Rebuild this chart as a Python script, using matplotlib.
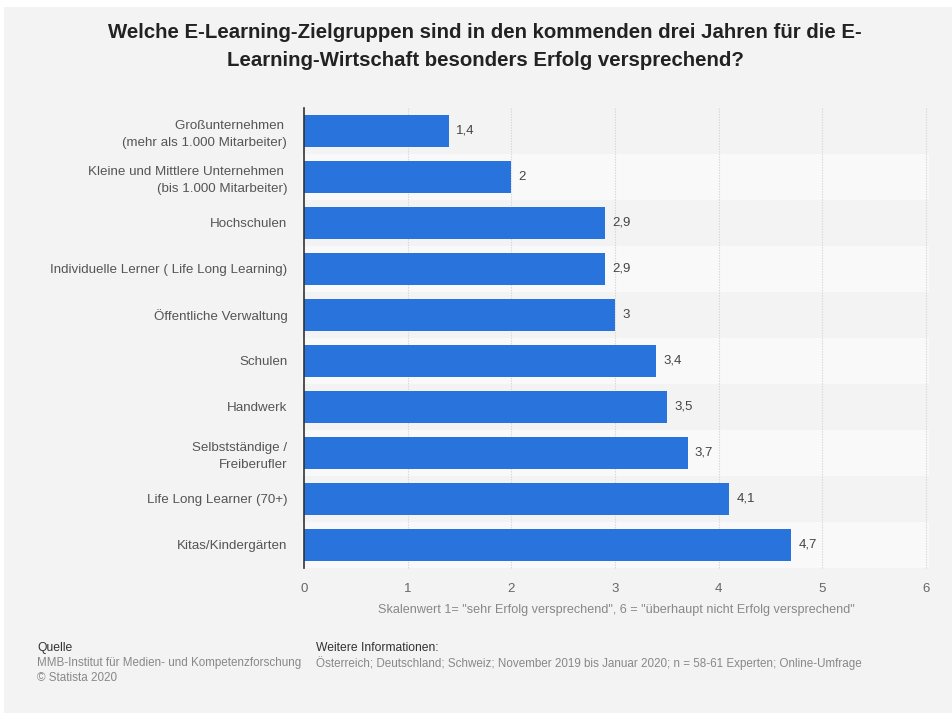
import matplotlib
matplotlib.use("Agg")
import matplotlib.pyplot as plt
from matplotlib.patches import Rectangle

plt.rcParams['font.family'] = ['Liberation Sans', 'DejaVu Sans']

categories = [
    "Großunternehmen \n(mehr als 1.000 Mitarbeiter)",
    "Kleine und Mittlere Unternehmen \n(bis 1.000 Mitarbeiter)",
    "Hochschulen",
    "Individuelle Lerner ( Life Long Learning)",
    "Öffentliche Verwaltung",
    "Schulen",
    "Handwerk",
    "Selbstständige /\nFreiberufler",
    "Life Long Learner (70+)",
    "Kitas/Kindergärten",
]
values = [1.4, 2.0, 2.9, 2.9, 3.0, 3.4, 3.5, 3.7, 4.1, 4.7]
value_labels = ["1,4", "2", "2,9", "2,9", "3", "3,4", "3,5", "3,7", "4,1", "4,7"]
x_ticks = [0, 1, 2, 3, 4, 5, 6]

BG = "#f3f3f3"
BAND = "#f9f9f9"
BAR = "#2874dc"

fig = plt.figure(figsize=(9.53, 7.13), dpi=100)
fig.patch.set_facecolor("white")
# grey panel inside a thin white frame
fig.patches.append(Rectangle((4 / 953, 0), 1 - 4 / 953, 1 - 7 / 713,
                             transform=fig.transFigure, facecolor=BG,
                             edgecolor="none", zorder=-10))

ax = fig.add_axes([304 / 953, 1 - 568 / 713, (926 - 304) / 953, 460 / 713])
ax.set_facecolor("none")
n = len(categories)
ypos = list(range(n))
ax.set_ylim(n - 0.5, -0.5)
ax.set_xlim(0, 6)

# alternating row bands
for i in ypos:
    if i % 2 == 1:
        ax.add_patch(Rectangle((-0.02, i - 0.5), 6.05, 1.0, facecolor=BAND,
                               edgecolor="none", zorder=0, clip_on=False))

for xv in x_ticks[1:]:
    ax.axvline(xv, color="#d6d6d6", lw=0.8, ls=(0, (1.2, 1.2)), zorder=1,
               clip_on=False)

ax.barh(ypos, values, height=0.7, color=BAR, zorder=3)
for y, v, lab in zip(ypos, values, value_labels):
    ax.text(v + 0.07, y, lab, va="center", ha="left", fontsize=9.5,
            color="#444444", zorder=4)

for s in ["top", "right", "bottom"]:
    ax.spines[s].set_visible(False)
ax.spines["left"].set_color("#333333")
ax.spines["left"].set_linewidth(1.2)
ax.spines["left"].set_zorder(5)

ax.set_yticks(ypos)
ax.set_yticklabels(categories, fontsize=9.6, color="#555555", linespacing=1.45)
ax.set_xticks(x_ticks)
ax.set_xticklabels([str(t) for t in x_ticks], fontsize=9.5, color="#666666")
ax.tick_params(axis="both", length=0)
ax.tick_params(axis="y", pad=12)
ax.tick_params(axis="x", pad=11)

fig.text(616 / 953, 1 - 610 / 713,
         'Skalenwert 1= "sehr Erfolg versprechend", 6 = "überhaupt nicht Erfolg versprechend"',
         ha="center", va="center", fontsize=9.1, color="#888888")

fig.text(485 / 953, 1 - 33 / 713,
         "Welche E-Learning-Zielgruppen sind in den kommenden drei Jahren für die E-",
         ha="center", va="center", fontsize=14.7, fontweight="bold", color="#222222")
fig.text(485 / 953, 1 - 60 / 713,
         "Learning-Wirtschaft besonders Erfolg versprechend?",
         ha="center", va="center", fontsize=14.7, fontweight="bold", color="#222222")

fig.text(37 / 953, 1 - 648 / 713, "Quelle", ha="left", va="center",
         fontsize=8.7, color="#333333")
fig.text(37 / 953, 1 - 663 / 713, "MMB-Institut für Medien- und Kompetenzforschung",
         ha="left", va="center", fontsize=8.4, color="#888888")
fig.text(37 / 953, 1 - 678 / 713, "© Statista 2020", ha="left", va="center",
         fontsize=8.4, color="#888888")
fig.text(316 / 953, 1 - 648 / 713, "Weitere Informationen:", ha="left",
         va="center", fontsize=8.7, color="#333333")
fig.text(316 / 953, 1 - 663 / 713,
         "Österreich; Deutschland; Schweiz; November 2019 bis Januar 2020; n = 58-61 Experten; Online-Umfrage",
         ha="left", va="center", fontsize=8.4, color="#888888")

fig.savefig("out.png", dpi=100, facecolor=fig.get_facecolor())
